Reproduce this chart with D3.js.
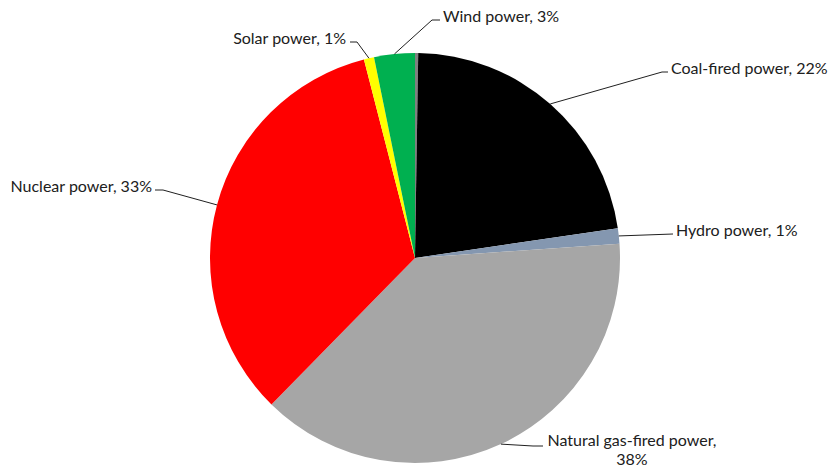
<!DOCTYPE html>
<html>
<head>
<meta charset="utf-8">
<script src="https://cdn.jsdelivr.net/npm/d3@7"></script>
<style>
  body { margin: 0; background: #fff; }
  svg { display: block; }
  text { font-family: Lato, "Liberation Sans", sans-serif; font-size: 16px; fill: #202020; }
</style>
</head>
<body>
<svg id="chart" width="830" height="469"></svg>
<script>
// slices, clockwise from 12 o'clock
const sources = ["Other", "Coal-fired power", "Hydro power", "Natural gas-fired power", "Nuclear power", "Solar power", "Wind power"];
const shares = [0.25, 22.4, 1.2, 38.4, 33.6, 0.8, 3.2];
const labels = ["", "Coal-fired power, 22%", "Hydro power, 1%", "Natural gas-fired power,|38%", "Nuclear power, 33%", "Solar power, 1%", "Wind power, 3%"];
const colors = ["#808080", "#000000", "#8497b0", "#a6a6a6", "#ff0000", "#ffff00", "#00b050"];

const width = 830, height = 469;
const cx = 415, cy = 258, radius = 205;

// label placement: elbow point, end of leader, text anchor
const layout = {
    "Coal-fired power":        {elbow: [662, 72], end: [668, 72], tx: 671, ty: 74, anchor: "start"},
    "Hydro power":             {elbow: null, end: [673, 234], tx: 676, ty: 236, anchor: "start"},
    "Natural gas-fired power": {elbow: [533, 446], end: [543, 446], tx: 632, ty: 446, anchor: "middle"},
    "Nuclear power":           {elbow: [163, 190], end: [155, 190], tx: 152, ty: 192, anchor: "end"},
    "Solar power":             {elbow: [357, 42], end: [350, 42], tx: 346, ty: 44, anchor: "end"},
    "Wind power":              {elbow: [432, 20], end: [440, 20], tx: 443, ty: 22, anchor: "start"}
};

const data = sources.map((s, i) => ({name: s, value: shares[i], label: labels[i], color: colors[i]}));

const svg = d3.select("#chart");
const g = svg.append("g").attr("transform", `translate(${cx},${cy})`);

const pie = d3.pie().value(d => d.value).sort(null);
const arc = d3.arc().innerRadius(0).outerRadius(radius);
const edge = d3.arc().innerRadius(radius).outerRadius(radius);

const arcs = pie(data);

g.selectAll("path.slice")
    .data(arcs)
    .enter()
    .append("path")
    .attr("class", "slice")
    .attr("d", arc)
    .attr("fill", d => d.data.color);

const labelled = arcs.filter(d => d.data.label !== "");

// leader lines
svg.selectAll("polyline.leader")
    .data(labelled)
    .enter()
    .append("polyline")
    .attr("class", "leader")
    .attr("fill", "none")
    .attr("stroke", "#202020")
    .attr("stroke-width", 1)
    .attr("points", d => {
        const c = edge.centroid(d);
        const p0 = [cx + c[0], cy + c[1]];
        const L = layout[d.data.name];
        const pts = [p0];
        if (L.elbow) pts.push(L.elbow);
        pts.push(L.end);
        return pts.map(p => p.join(",")).join(" ");
    });

const txt = svg.selectAll("text.lbl")
    .data(labelled)
    .enter()
    .append("text")
    .attr("class", "lbl")
    .attr("text-anchor", d => layout[d.data.name].anchor);

txt.each(function(d) {
    const L = layout[d.data.name];
    const lines = d.data.label.split("|");
    d3.select(this).selectAll("tspan")
        .data(lines)
        .enter()
        .append("tspan")
        .attr("x", L.tx)
        .attr("y", (l, i) => L.ty + i * 19)
        .text(l => l);
});
</script>
</body>
</html>
